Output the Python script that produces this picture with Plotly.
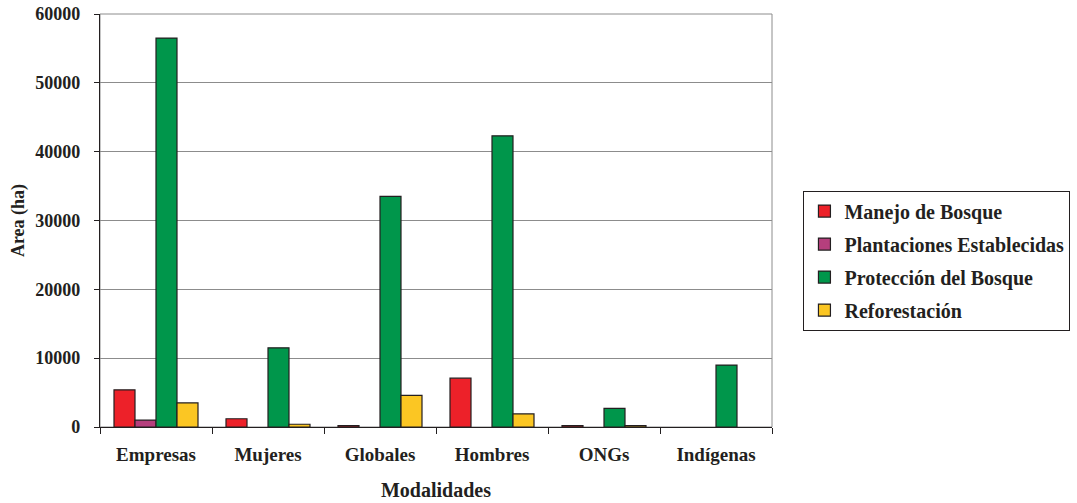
import plotly.graph_objects as go

# Area by modality and activity type (None = no area reported)
modalidades = ["Empresas", "Mujeres", "Globales", "Hombres", "ONGs", "Indígenas"]
manejo = [5400, 1200, 200, 7100, 200, None]
plantaciones = [1000, None, None, None, None, None]
proteccion = [56500, 11500, 33500, 42300, 2700, 9000]
reforestacion = [3500, 400, 4600, 1900, 200, None]
y_ticks = [0, 10000, 20000, 30000, 40000, 50000, 60000]

series = [
    ("Manejo de Bosque", manejo, "#ed2129"),
    ("Plantaciones Establecidas", plantaciones, "#b53f7d"),
    ("Protección del Bosque", proteccion, "#00964b"),
    ("Reforestación", reforestacion, "#fbc623"),
]

font_family = "Liberation Serif, Times New Roman, serif"
ink = "#231f20"

fig = go.Figure()
for name, vals, color in series:
    fig.add_trace(go.Bar(
        x=modalidades, y=vals, name=name, legendgroup=name,
        marker=dict(color=color, line=dict(color=ink, width=1.2)),
    ))

fig.update_layout(
    width=1077, height=503,
    margin=dict(l=100, r=305, t=14, b=76, autoexpand=False),
    paper_bgcolor="white", plot_bgcolor="white",
    barmode="group", bargap=0.25, bargroupgap=0,
    font=dict(family=font_family, color=ink, size=16),
    legend=dict(
        xref="container", yref="container",
        x=0.746, xanchor="left", y=0.482, yanchor="middle",
        bordercolor=ink, borderwidth=1,
        font=dict(family=font_family, size=20, color=ink, weight="bold"),
        tracegroupgap=4, itemwidth=30,
    ),
    shapes=[dict(type="rect", xref="paper", yref="paper", x0=0, x1=1, y0=0, y1=1,
                 line=dict(color="#8c8c8c", width=1), layer="below")],
)

fig.update_xaxes(
    automargin=False,
    showline=True, linecolor=ink, linewidth=1.2,
    ticks="outside", tickson="boundaries", ticklen=6, tickcolor=ink,
    ticklabelstandoff=10,
    tickfont=dict(family=font_family, size=19, color=ink, weight="bold"),
    title=dict(text="Modalidades", standoff=19,
               font=dict(family=font_family, size=20, color=ink, weight="bold")),
)
fig.update_yaxes(
    automargin=False,
    range=[0, 60000], tickvals=y_ticks, tickformat="d",
    showline=True, linecolor=ink, linewidth=1.2,
    ticks="outside", ticklen=5, tickcolor=ink,
    ticklabelstandoff=10,
    showgrid=True, gridcolor="#8c8c8c", gridwidth=1,
    zeroline=False,
    tickfont=dict(family=font_family, size=18, color=ink, weight="bold"),
    title=dict(text="Area (ha)", standoff=5,
               font=dict(family=font_family, size=18, color=ink, weight="bold")),
)

fig.write_html("out.html")
